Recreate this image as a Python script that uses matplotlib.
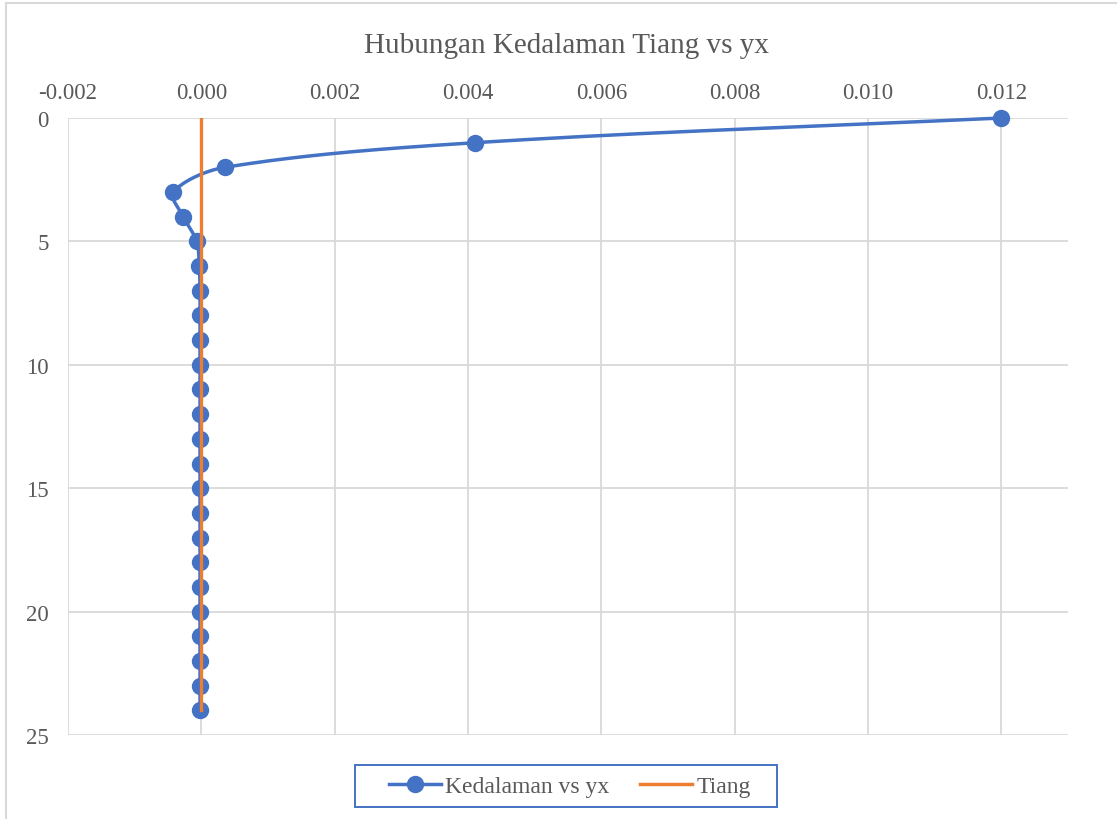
import numpy as np
import matplotlib
matplotlib.use("Agg")
import matplotlib.pyplot as plt
from matplotlib.lines import Line2D
from matplotlib.patches import Rectangle

# ---- data ----
depth = [0, 1, 2, 3, 4, 5, 6, 7, 8, 9, 10, 11, 12, 13, 14, 15, 16, 17, 18, 19, 20, 21, 22, 23, 24]
yx = [0.0120, 0.00411, 0.00035, -0.00042, -0.00027, -0.00007, -0.00003, -0.00002, -0.00002,
      -0.00002, -0.00002, -0.00002, -0.00002, -0.00002, -0.00002, -0.00002, -0.00002,
      -0.00002, -0.00002, -0.00002, -0.00002, -0.00002, -0.00002, -0.00002, -0.00002]
tiang_x = [0.0, 0.0]
tiang_depth = [0, 24]
x_ticks = [-0.002, 0.000, 0.002, 0.004, 0.006, 0.008, 0.010, 0.012]
y_ticks = [0, 5, 10, 15, 20, 25]
title = "Hubungan Kedalaman Tiang vs yx"
series_names = ["Kedalaman vs yx", "Tiang"]

BLUE = "#4472C4"
ORANGE = "#ED7D31"
GRAY_TXT = "#595959"
GRID = "#D9D9D9"

plt.rcParams['font.family'] = ['Liberation Serif', 'DejaVu Serif']


def smooth_pixels(P, n=40):
    """Excel-like smoothed line: Bezier with length-scaled tangents (pixel space)."""
    m = len(P)
    out = []
    d = np.linalg.norm(np.diff(P, axis=0), axis=1)
    for i in range(m - 1):
        p1, p2 = P[i], P[i + 1]
        d12 = d[i]
        if i > 0:
            d01 = d[i - 1]
            c1 = p1 + (p2 - P[i - 1]) * d12 / max(d01 + d12, 1e-9) / 3.0
        else:
            c1 = p1 + (p2 - p1) / 3.0
        if i + 2 < m:
            d23 = d[i + 1]
            c2 = p2 - (P[i + 2] - p1) * d12 / max(d12 + d23, 1e-9) / 3.0
        else:
            c2 = p2 - (p2 - p1) / 3.0
        t = np.linspace(0, 1, n)[:, None]
        seg = ((1 - t) ** 3) * p1 + 3 * ((1 - t) ** 2) * t * c1 + 3 * (1 - t) * t ** 2 * c2 + t ** 3 * p2
        out.append(seg if i == 0 else seg[1:])
    return np.vstack(out)


fig = plt.figure(figsize=(11.17, 8.2), dpi=100)
ax = fig.add_axes([68 / 1117, 1 - 736 / 820, 1000 / 1117, (736 - 119) / 820])
ax.set_xlim(-0.002, 0.013)
ax.set_ylim(25, 0)

# smoothed curve computed in display space, mapped back to data
pix = ax.transData.transform(np.column_stack([yx, depth]))
S = ax.transData.inverted().transform(smooth_pixels(pix))
ax.plot(S[:, 0], S[:, 1], color=BLUE, lw=2.5, zorder=3, solid_capstyle='round', clip_on=False)
ax.plot(yx, depth, linestyle='none', marker='o', ms=11.5, color=BLUE, zorder=4, clip_on=False)
ax.plot(tiang_x, tiang_depth, color=ORANGE, lw=2.4, zorder=5)

ax.set_xticks(x_ticks)
ax.set_xticklabels([f"{v:.3f}" for v in x_ticks])
ax.set_yticks(y_ticks)
ax.xaxis.tick_top()
ax.tick_params(axis='both', length=0, labelsize=16.5, colors=GRAY_TXT)
ax.tick_params(axis='x', pad=11)
ax.tick_params(axis='y', pad=14)
ax.grid(True, color=GRID, lw=1.3, zorder=0)
ax.set_axisbelow(True)
for s in ax.spines.values():
    s.set_visible(False)

fig.text(0.507, 1 - 46 / 820, title, ha='center', va='center', fontsize=21, color=GRAY_TXT)

handles = [Line2D([], [], color=BLUE, lw=2.5, marker='o', ms=11.5),
           Line2D([], [], color=ORANGE, lw=2.5)]
leg = fig.legend(handles, series_names, loc='center', bbox_to_anchor=(570 / 1117, 1 - 787 / 820),
                 ncol=2, fontsize=17, frameon=False, handlelength=2.2,
                 handletextpad=0.2, columnspacing=1.3, borderpad=0.25, labelcolor=GRAY_TXT)
fig.add_artist(Rectangle((355 / 1117, 1 - 808 / 820), 422 / 1117, 42 / 820,
                         transform=fig.transFigure, fill=False, edgecolor=BLUE, lw=1.4))

# chart border (top and left visible)
fig.add_artist(Line2D([6 / 1117, 6 / 1117], [0, 1 - 3.5 / 820], transform=fig.transFigure, color=GRID, lw=1.5))
fig.add_artist(Line2D([6 / 1117, 1], [1 - 3.5 / 820, 1 - 3.5 / 820], transform=fig.transFigure, color=GRID, lw=1.5))

fig.savefig("out.png", dpi=100, facecolor='white')
